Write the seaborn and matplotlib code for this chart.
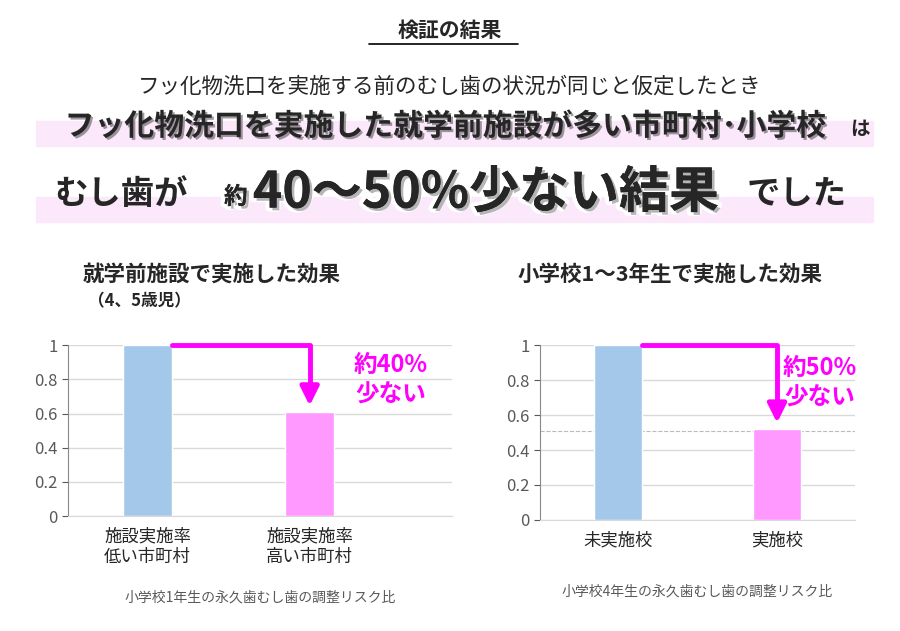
import numpy as np
import pandas as pd
import seaborn as sns
from matplotlib import pyplot as plt
from matplotlib import patheffects as pe

sns.set_style("white")
plt.rcParams['font.family'] = ['Noto Sans CJK JP', 'DejaVu Sans']

left_cats = ["施設実施率\n低い市町村", "施設実施率\n高い市町村"]
left_vals = [1.0, 0.61]
right_cats = ["未実施校", "実施校"]
right_vals = [1.0, 0.52]
right_ref = 0.51
bar_colors = ["#a4c8ea", "#ff99ff"]
yticks = [0, 0.2, 0.4, 0.6, 0.8, 1]
MAG = "#ff00ff"

fig = plt.figure(figsize=(9, 6.31), dpi=100)

# header text
fig.text(0.5, 0.952, "検証の結果", ha="center", va="center", fontsize=15,
         fontweight="bold")
fig.add_artist(plt.Line2D([0.41, 0.575], [0.93, 0.93], color="black", lw=1.2))
fig.text(0.5, 0.862, "フッ化物洗口を実施する前のむし歯の状況が同じと仮定したとき",
         ha="center", va="center", fontsize=15.5)
fig.patches.append(plt.Rectangle((0.04, 0.768), 0.93, 0.04, transform=fig.transFigure,
                                 color="#fbe9fb", zorder=0))
fig.patches.append(plt.Rectangle((0.04, 0.648), 0.93, 0.04, transform=fig.transFigure,
                                 color="#fbe9fb", zorder=0))
fig.text(0.495, 0.8, "フッ化物洗口を実施した就学前施設が多い市町村･小学校",
         ha="center", va="center", fontsize=21.5, fontweight="bold",
         path_effects=[pe.withSimplePatchShadow(offset=(1.5, -1.5), alpha=0.4)])
fig.text(0.955, 0.795, "は", ha="center", va="center", fontsize=14, fontweight="bold")
shadow = [pe.withStroke(linewidth=6, foreground="white"),
          pe.withSimplePatchShadow(offset=(2, -2), alpha=0.3)]
fig.text(0.135, 0.692, "むし歯が", ha="center", va="center", fontsize=24,
         fontweight="bold")
fig.text(0.262, 0.688, "約", ha="center", va="center", fontsize=17, fontweight="bold",
         path_effects=shadow)
fig.text(0.54, 0.694, "40～50%少ない結果", ha="center", va="center", fontsize=36,
         fontweight="bold", path_effects=shadow)
fig.text(0.885, 0.692, "でした", ha="center", va="center", fontsize=24,
         fontweight="bold")

# panel titles
fig.text(0.235, 0.565, "就学前施設で実施した効果", ha="center", va="center",
         fontsize=15.5, fontweight="bold")
fig.text(0.155, 0.523, "（4、5歳児）", ha="center", va="center", fontsize=12,
         fontweight="bold")
fig.text(0.745, 0.565, "小学校1～3年生で実施した効果", ha="center", va="center",
         fontsize=15.5, fontweight="bold")


def panel(rect, cats, vals, xlim, note, note_y):
    ax = fig.add_axes(rect)
    df = pd.DataFrame({"cat": cats, "val": vals})
    sns.barplot(data=df, x="cat", y="val", hue="cat", palette=bar_colors,
                saturation=1, width=0.3, legend=False, ax=ax, zorder=3)
    ax.set_ylim(0, 1)
    ax.set_xlim(*xlim)
    ax.set_yticks(yticks)
    ax.set_yticklabels(["0", "0.2", "0.4", "0.6", "0.8", "1"])
    ax.grid(axis="y", color="#d9d9d9", lw=1)
    for s in ["top", "right"]:
        ax.spines[s].set_visible(False)
    ax.spines["left"].set_color("#888888")
    ax.spines["bottom"].set_color("#d9d9d9")
    ax.tick_params(axis="y", labelsize=12, colors="#595959", length=4, left=True)
    ax.tick_params(axis="x", labelsize=12.5, length=0, pad=8)
    ax.set_xlabel("")
    ax.set_ylabel("")
    ax.text(0.5, note_y, note, transform=ax.transAxes, ha="center", fontsize=10,
            color="#595959")
    # arrow from top of first bar to second bar
    x0 = 0.15
    ax.plot([x0, 1, 1], [vals[0], vals[0], vals[1] + 0.14], color=MAG, lw=3.5,
            zorder=5, clip_on=False)
    ax.annotate("", xy=(1, vals[1] + 0.02), xytext=(1, vals[1] + 0.15),
                arrowprops=dict(arrowstyle="-|>", color=MAG, lw=3.5,
                                mutation_scale=28), zorder=5)
    return ax


axl = panel([0.0756, 0.182, 0.427, 0.271], left_cats, left_vals, (-0.49, 1.88),
            "小学校1年生の永久歯むし歯の調整リスク比", -0.5)
axl.text(1.5, 0.8, "約40%\n少ない", ha="center", va="center", fontsize=17,
         fontweight="bold", color=MAG, linespacing=1.3)

axr = panel([0.6, 0.176, 0.35, 0.277], right_cats, right_vals, (-0.49, 1.49),
            "小学校4年生の永久歯むし歯の調整リスク比", -0.43)
axr.axhline(right_ref, color="#bbbbbb", ls="--", lw=0.8, zorder=2)
axr.text(1.27, 0.785, "約50%\n少ない", ha="center", va="center", fontsize=17,
         fontweight="bold", color=MAG, linespacing=1.3)

fig.savefig("out.png", dpi=100)
